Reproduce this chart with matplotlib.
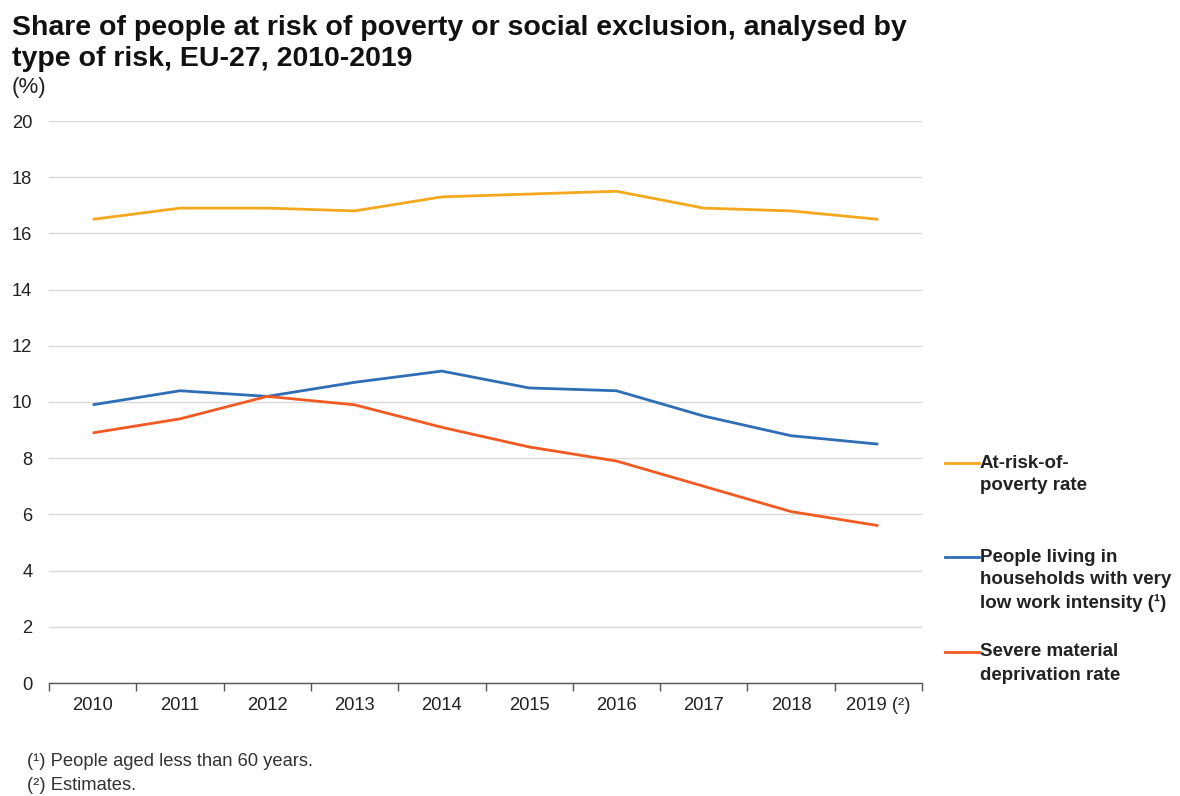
import matplotlib
matplotlib.use("Agg")
import matplotlib.pyplot as plt
from matplotlib.lines import Line2D

plt.rcParams['font.family'] = ['Liberation Sans', 'DejaVu Sans']

years = ["2010", "2011", "2012", "2013", "2014", "2015", "2016", "2017", "2018", "2019 (²)"]
at_risk_poverty = [16.5, 16.9, 16.9, 16.8, 17.3, 17.4, 17.5, 16.9, 16.8, 16.5]
low_work_intensity = [9.9, 10.4, 10.2, 10.7, 11.1, 10.5, 10.4, 9.5, 8.8, 8.5]
material_deprivation = [8.9, 9.4, 10.2, 9.9, 9.1, 8.4, 7.9, 7.0, 6.1, 5.6]

series_labels = [
    ["At-risk-of-", "poverty rate"],
    ["People living in", "households with very", "low work intensity (¹)"],
    ["Severe material", "deprivation rate"],
]
colors = ["#F4A81D", "#2F6EB5", "#F15A22"]

W, H = 1180, 796
fig = plt.figure(figsize=(W / 100, H / 100), dpi=100)
ax = fig.add_axes([49 / W, 1 - 683 / H, (922 - 49) / W, (683 - 121) / H])

x = list(range(len(years)))
for vals, c in zip([at_risk_poverty, low_work_intensity, material_deprivation], colors):
    ax.plot(x, vals, color=c, lw=2.0, solid_capstyle='butt', zorder=3)

ax.set_xlim(-0.5, len(years) - 0.5)
ax.set_ylim(0, 20)
ax.set_yticks(range(0, 21, 2))
ax.set_yticklabels([str(v) for v in range(0, 21, 2)], fontsize=13.2, color="#222222")
ax.yaxis.grid(True, color="#d9d9d9", lw=1.0)
ax.set_axisbelow(True)
ax.tick_params(axis='y', length=0, pad=12)

# category labels centred, tick marks at category boundaries
ax.set_xticks(x)
ax.set_xticklabels(years, fontsize=13.2, color="#222222")
ax.set_xticks([i - 0.5 for i in range(len(years) + 1)], minor=True)
ax.tick_params(axis='x', which='major', length=0, pad=10)
ax.tick_params(axis='x', which='minor', length=6, width=1, color="#555555")

for s in ['top', 'right', 'left']:
    ax.spines[s].set_visible(False)
ax.spines['bottom'].set_color("#555555")
ax.spines['bottom'].set_linewidth(1.0)

# legend entries placed beside the plot
legend_y = [463, 557, 652]
line_step = 23
for lines, c, yp in zip(series_labels, colors, legend_y):
    fy = 1 - yp / H
    fig.add_artist(Line2D([945 / W, 979 / W], [fy, fy], color=c, lw=2.0,
                          transform=fig.transFigure))
    for k, txt in enumerate(lines):
        fig.text(980 / W, 1 - (yp + k * line_step) / H, txt, fontsize=13.5,
                 fontweight='bold', color="#222222", va='center', ha='left')

title_lines = ["Share of people at risk of poverty or social exclusion, analysed by",
               "type of risk, EU-27, 2010-2019"]
for k, txt in enumerate(title_lines):
    fig.text(12 / W, 1 - (35 + k * 31) / H, txt, fontsize=20.5, fontweight='bold',
             color="#111111", va='baseline', ha='left')
fig.text(12 / W, 1 - 88 / H, "(%)", fontsize=16, color="#222222",
         va='center', ha='left')

fig.text(27 / W, 1 - 762 / H, "(¹) People aged less than 60 years.",
         fontsize=13.2, color="#333333", va='center', ha='left')
fig.text(27 / W, 1 - 785 / H, "(²) Estimates.",
         fontsize=13.2, color="#333333", va='center', ha='left')

fig.savefig("out.png", dpi=100, facecolor="white")
